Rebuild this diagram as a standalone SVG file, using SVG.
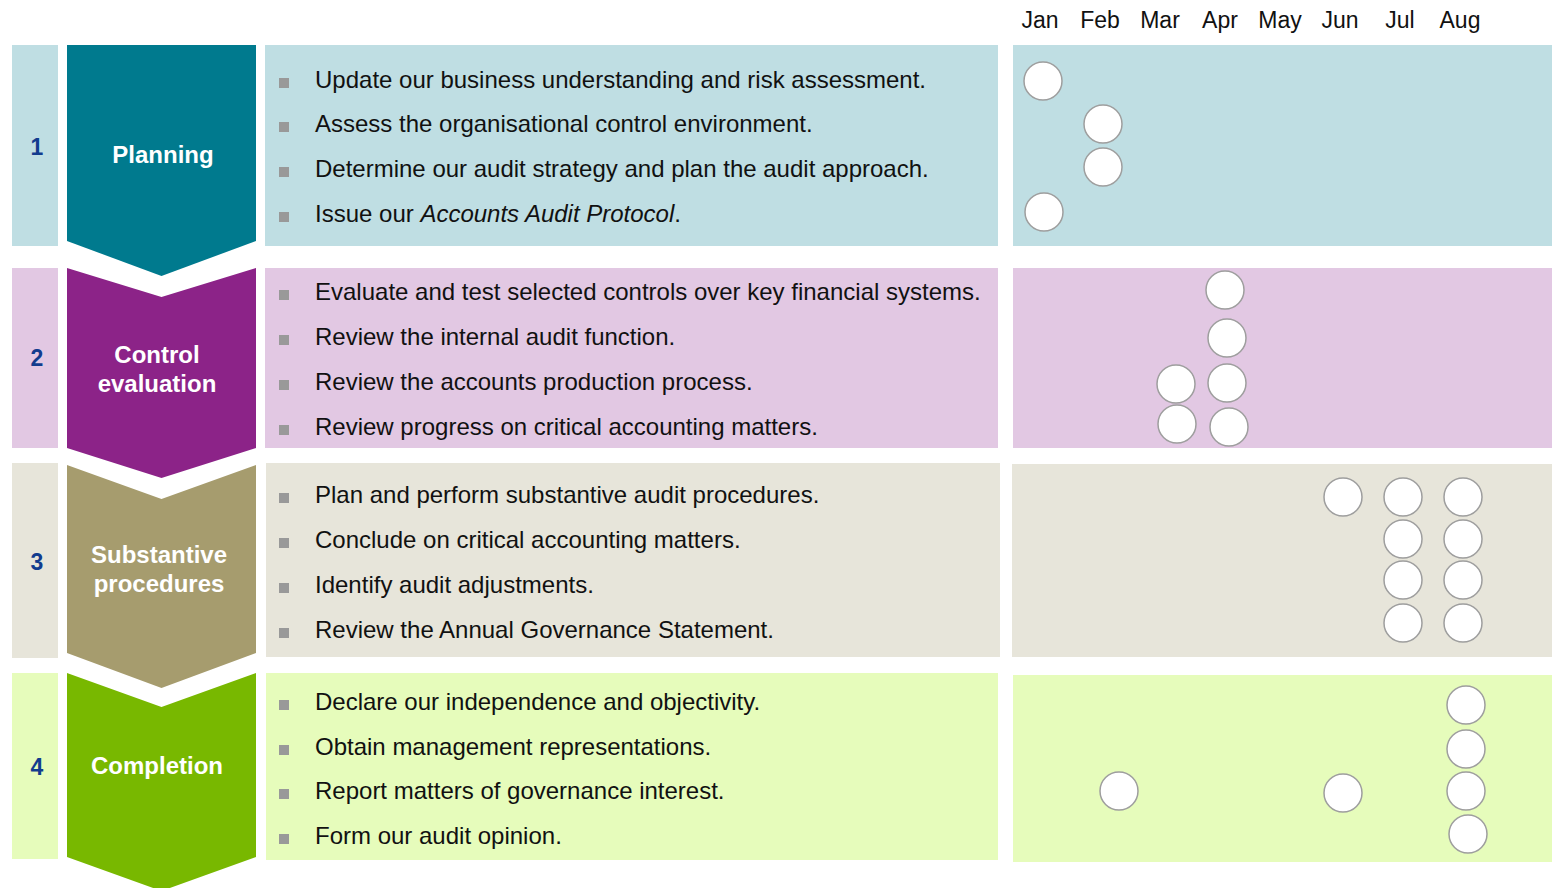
<svg xmlns="http://www.w3.org/2000/svg" width="1552" height="888" viewBox="0 0 1552 888">
<style>
.num{font-family:"Liberation Sans",Arial,sans-serif;font-weight:bold;font-size:23px;fill:#123C8E;text-anchor:middle}
.lbl{font-family:"Liberation Sans",Arial,sans-serif;font-weight:bold;font-size:24px;fill:#ffffff;text-anchor:middle}
.item{font-family:"Liberation Sans",Arial,sans-serif;font-size:24px;fill:#111111}
.mon{font-family:"Liberation Sans",Arial,sans-serif;font-size:23px;fill:#111111;text-anchor:middle}
.bul{fill:#999999}
.dot{fill:#ffffff;stroke:#9E9E9E;stroke-width:1.5}
</style>
<rect width="1552" height="888" fill="#ffffff"/>
<g id="months">
<text class="mon" x="1040" y="28">Jan</text>
<text class="mon" x="1100" y="28">Feb</text>
<text class="mon" x="1160" y="28">Mar</text>
<text class="mon" x="1220" y="28">Apr</text>
<text class="mon" x="1280" y="28">May</text>
<text class="mon" x="1340" y="28">Jun</text>
<text class="mon" x="1400" y="28">Jul</text>
<text class="mon" x="1460" y="28">Aug</text>
</g>
<g id="stage1">
<rect x="12" y="45" width="46" height="201" fill="#BFDEE3"/>
<rect x="265" y="45" width="733" height="201" fill="#BFDEE3"/>
<rect x="1013" y="45" width="539" height="201" fill="#BFDEE3"/>
<path d="M67,45 L256,45 L256,241 L161.5,276 L67,241 Z" fill="#007A8E"/>
<text class="num" x="37" y="155">1</text>
<text class="lbl" x="163" y="163">Planning</text>
<rect class="bul" x="279" y="78" width="10" height="10"/>
<text class="item" x="315" y="88">Update our business understanding and risk assessment.</text>
<rect class="bul" x="279" y="122" width="10" height="10"/>
<text class="item" x="315" y="132">Assess the organisational control environment.</text>
<rect class="bul" x="279" y="167" width="10" height="10"/>
<text class="item" x="315" y="177">Determine our audit strategy and plan the audit approach.</text>
<rect class="bul" x="279" y="212" width="10" height="10"/>
<text class="item" x="315" y="222">Issue our <tspan font-style="italic">Accounts Audit Protocol</tspan>.</text>
<circle class="dot" cx="1043" cy="81" r="19"/>
<circle class="dot" cx="1103" cy="124" r="19"/>
<circle class="dot" cx="1103" cy="167" r="19"/>
<circle class="dot" cx="1044" cy="212" r="19"/>
</g>
<g id="stage2">
<rect x="12" y="268" width="46" height="180" fill="#E2C8E3"/>
<rect x="265" y="268" width="733" height="180" fill="#E2C8E3"/>
<rect x="1013" y="268" width="539" height="180" fill="#E2C8E3"/>
<path d="M67,268 L161.5,297 L256,268 L256,448 L161.5,478 L67,448 Z" fill="#8C2388"/>
<text class="num" x="37" y="366">2</text>
<text class="lbl" x="157" y="363">Control</text>
<text class="lbl" x="157" y="392">evaluation</text>
<rect class="bul" x="279" y="290" width="10" height="10"/>
<text class="item" x="315" y="300">Evaluate and test selected controls over key financial systems.</text>
<rect class="bul" x="279" y="335" width="10" height="10"/>
<text class="item" x="315" y="345">Review the internal audit function.</text>
<rect class="bul" x="279" y="380" width="10" height="10"/>
<text class="item" x="315" y="390">Review the accounts production process.</text>
<rect class="bul" x="279" y="425" width="10" height="10"/>
<text class="item" x="315" y="435">Review progress on critical accounting matters.</text>
<circle class="dot" cx="1225" cy="290" r="19"/>
<circle class="dot" cx="1227" cy="338" r="19"/>
<circle class="dot" cx="1176" cy="384" r="19"/>
<circle class="dot" cx="1227" cy="383" r="19"/>
<circle class="dot" cx="1177" cy="424" r="19"/>
<circle class="dot" cx="1229" cy="427" r="19"/>
</g>
<g id="stage3">
<rect x="12" y="463" width="46" height="195" fill="#E7E5DA"/>
<rect x="266" y="463" width="734" height="194" fill="#E7E5DA"/>
<rect x="1012" y="464" width="540" height="193" fill="#E7E5DA"/>
<path d="M67,465 L161.5,499 L256,465 L256,653 L161.5,688 L67,653 Z" fill="#A69C6E"/>
<text class="num" x="37" y="570">3</text>
<text class="lbl" x="159" y="563">Substantive</text>
<text class="lbl" x="159" y="592">procedures</text>
<rect class="bul" x="279" y="493" width="10" height="10"/>
<text class="item" x="315" y="503">Plan and perform substantive audit procedures.</text>
<rect class="bul" x="279" y="538" width="10" height="10"/>
<text class="item" x="315" y="548">Conclude on critical accounting matters.</text>
<rect class="bul" x="279" y="583" width="10" height="10"/>
<text class="item" x="315" y="593">Identify audit adjustments.</text>
<rect class="bul" x="279" y="628" width="10" height="10"/>
<text class="item" x="315" y="638">Review the Annual Governance Statement.</text>
<circle class="dot" cx="1343" cy="497" r="19"/>
<circle class="dot" cx="1403" cy="497" r="19"/>
<circle class="dot" cx="1463" cy="497" r="19"/>
<circle class="dot" cx="1403" cy="539" r="19"/>
<circle class="dot" cx="1463" cy="539" r="19"/>
<circle class="dot" cx="1403" cy="580" r="19"/>
<circle class="dot" cx="1463" cy="580" r="19"/>
<circle class="dot" cx="1403" cy="623" r="19"/>
<circle class="dot" cx="1463" cy="623" r="19"/>
</g>
<g id="stage4">
<rect x="12" y="673" width="46" height="186" fill="#E6FCBB"/>
<rect x="266" y="673" width="732" height="187" fill="#E6FCBB"/>
<rect x="1013" y="675" width="539" height="187" fill="#E6FCBB"/>
<path d="M67,673 L161.5,707 L256,673 L256,857 L161.5,891 L67,857 Z" fill="#78B800"/>
<text class="num" x="37" y="775">4</text>
<text class="lbl" x="157" y="774">Completion</text>
<rect class="bul" x="279" y="700" width="10" height="10"/>
<text class="item" x="315" y="710">Declare our independence and objectivity.</text>
<rect class="bul" x="279" y="745" width="10" height="10"/>
<text class="item" x="315" y="755">Obtain management representations.</text>
<rect class="bul" x="279" y="789" width="10" height="10"/>
<text class="item" x="315" y="799">Report matters of governance interest.</text>
<rect class="bul" x="279" y="834" width="10" height="10"/>
<text class="item" x="315" y="844">Form our audit opinion.</text>
<circle class="dot" cx="1119" cy="791" r="19"/>
<circle class="dot" cx="1343" cy="793" r="19"/>
<circle class="dot" cx="1466" cy="705" r="19"/>
<circle class="dot" cx="1466" cy="749" r="19"/>
<circle class="dot" cx="1466" cy="791" r="19"/>
<circle class="dot" cx="1468" cy="834" r="19"/>
</g>
<g id="connectors"></g>
</svg>
